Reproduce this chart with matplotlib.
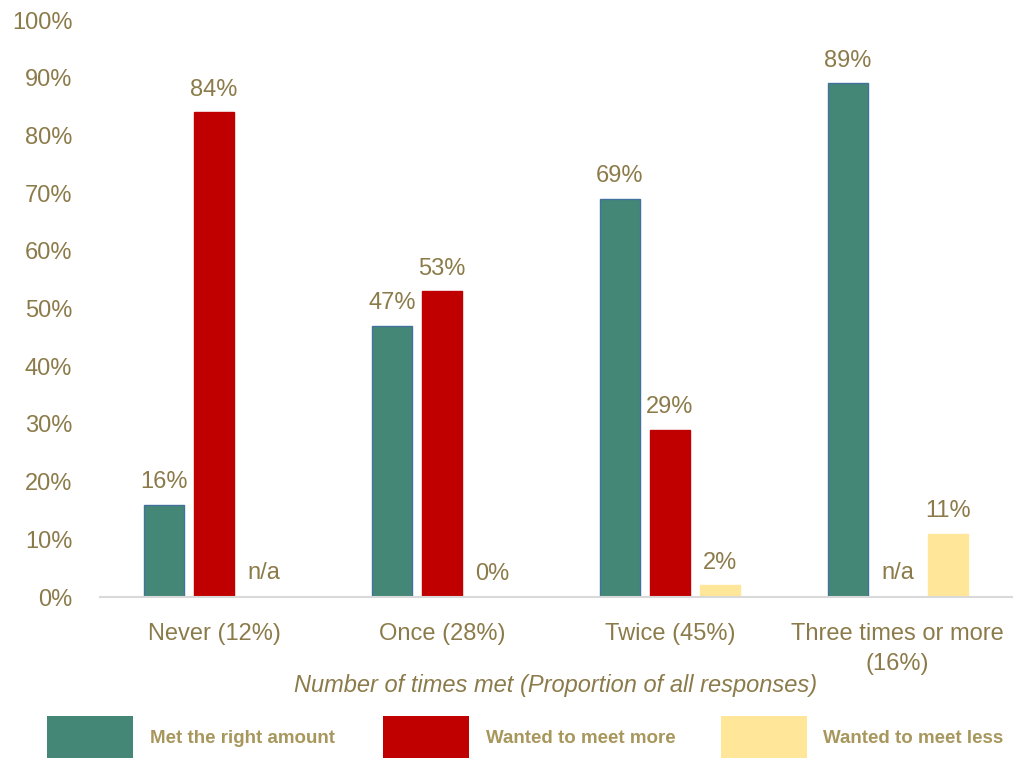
import matplotlib.pyplot as plt
from matplotlib.patches import Rectangle
import numpy as np

categories = ['Never (12%)', 'Once (28%)', 'Twice (45%)', 'Three times or more\n(16%)']
series_names = ['Met the right amount', 'Wanted to meet more', 'Wanted to meet less']
right_amount = [16, 47, 69, 89]
meet_more = [84, 53, 29, None]
meet_less = [None, 0, 2, 11]
na_label = 'n/a'

colors = ['#458776', '#C00000', '#FFE699']
edges = ['#41719C', '#C00000', '#FFE699']
txt_color = '#8C7B4A'
leg_color = '#A8975C'

plt.rcParams['font.family'] = ['Liberation Sans', 'DejaVu Sans']

fig = plt.figure(figsize=(10.25, 7.58), dpi=100)
ax = fig.add_axes([0.0976, 0.2124, 0.8894, 0.7612])

x = np.arange(len(categories))
w = 0.175
offs = [-0.22, 0, 0.22]
for i, vals in enumerate([right_amount, meet_more, meet_less]):
    for j, v in enumerate(vals):
        xp = x[j] + offs[i]
        if v is None:
            ax.text(xp, 2.3, na_label, ha='center', va='bottom', fontsize=17, color=txt_color)
            continue
        ax.bar(xp, v, w, color=colors[i], edgecolor=edges[i], linewidth=1)
        ax.text(xp, v + 2.0, '%d%%' % v, ha='center', va='bottom', fontsize=17, color=txt_color)

ax.set_xlim(-0.5, len(categories) - 0.5)
ax.set_ylim(0, 100)
ax.set_yticks(np.arange(0, 101, 10))
ax.set_yticklabels(['%d%%' % t for t in range(0, 101, 10)])
ax.set_xticks(x)
ax.set_xticklabels(categories, linespacing=1.45)
ax.tick_params(length=0, labelsize=17, labelcolor=txt_color)
ax.tick_params(axis='x', pad=19)
ax.tick_params(axis='y', pad=20)
for s in ['top', 'right', 'left']:
    ax.spines[s].set_visible(False)
ax.spines['bottom'].set_color('#D9D9D9')
ax.spines['bottom'].set_linewidth(1.5)
ax.set_xlabel('Number of times met (Proportion of all responses)', fontsize=17,
              style='italic', color=txt_color, labelpad=-1)

# legend drawn by hand
leg_x = [0.046, 0.374, 0.703]
for i, name in enumerate(series_names):
    fig.patches.append(Rectangle((leg_x[i], 0.0), 0.084, 0.055, transform=fig.transFigure,
                                 facecolor=colors[i], edgecolor='none'))
    fig.text(leg_x[i] + 0.1, 0.0255, name, fontsize=13.5, color=leg_color, va='center',
             weight='bold')

fig.savefig('out.png', dpi=100)
